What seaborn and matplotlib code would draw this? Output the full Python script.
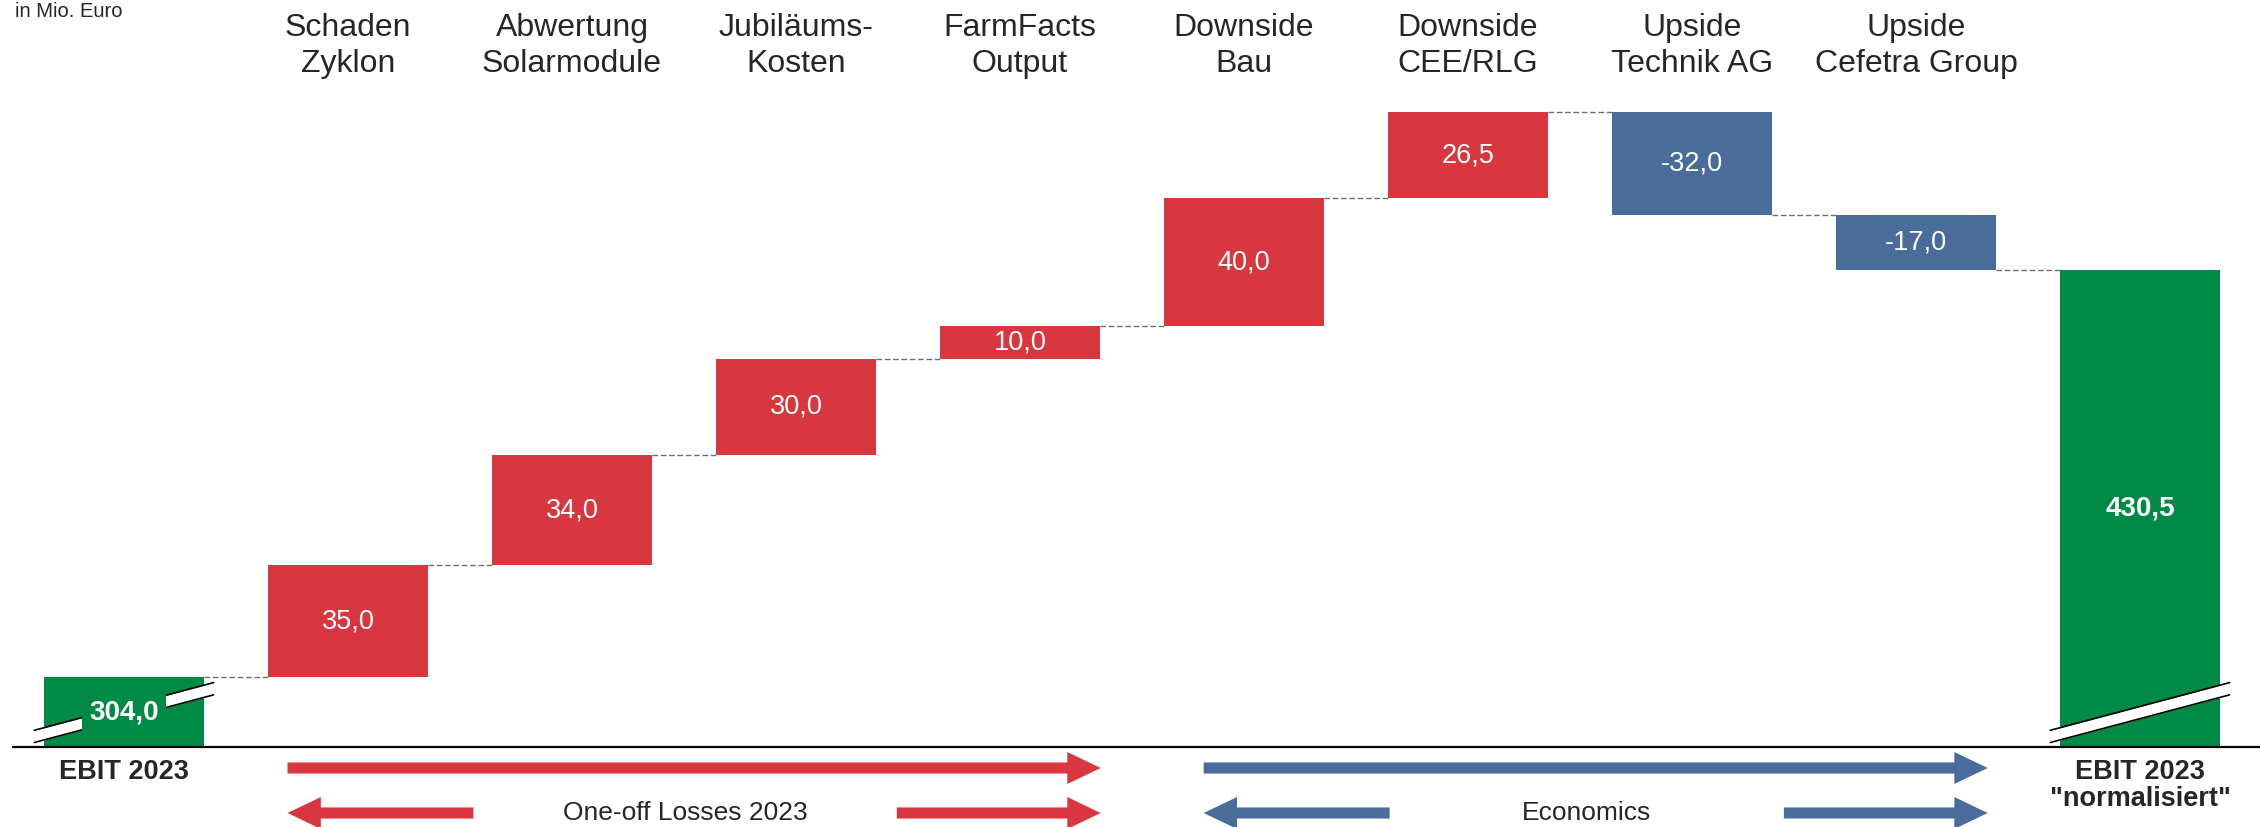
import matplotlib
matplotlib.use("Agg")
import matplotlib.pyplot as plt
import matplotlib.transforms as mtransforms
import numpy as np
import pandas as pd
import seaborn as sns

# --- data ---------------------------------------------------------------
start_label = "EBIT 2023"
end_label = 'EBIT 2023\n"normalisiert"'
step_labels = [
    "Schaden\nZyklon",
    "Abwertung\nSolarmodule",
    "Jubiläums-\nKosten",
    "FarmFacts\nOutput",
    "Downside\nBau",
    "Downside\nCEE/RLG",
    "Upside\nTechnik AG",
    "Upside\nCefetra Group",
]
start_value = 304.0
step_values = [35.0, 34.0, 30.0, 10.0, 40.0, 26.5, -32.0, -17.0]
end_value = 430.5
axis_floor = 282.4          # where the broken value axis is cut off
unit_label = "in Mio. Euro"

# bracket arrows under the steps: (text, span start, span end) in bar units
group_names = ["One-off Losses 2023", "Economics"]
group_spans = [(0.73, 4.36), (4.82, 8.32)]
group_colors = ["#D9373F", "#4A6C9B"]

GREEN, RED, BLUE = "#008A46", "#D9373F", "#4A6C9B"
BAR_W = 0.714


def fmt(v):
    return f"{v:.1f}".replace(".", ",")


def main():
    labels = [start_label] + step_labels + [end_label]
    cum = start_value + np.cumsum(step_values)
    levels = np.r_[start_value, cum]
    bottoms = np.r_[0.0, levels[:-1], 0.0]
    heights = [start_value] + step_values + [end_value]
    kinds = ["total"] + ["up" if v > 0 else "down" for v in step_values] + ["total"]
    df = pd.DataFrame({"label": [l.replace("\n", " ") for l in labels],
                       "height": heights, "bottom": bottoms, "kind": kinds})
    palette = {"total": GREEN, "up": RED, "down": BLUE}

    sns.set_style("white")
    plt.rcParams["font.family"] = ["Liberation Sans", "DejaVu Sans"]

    fig = plt.figure(figsize=(22.6, 8.27), dpi=100)
    ax = fig.add_axes([0, 80 / 827, 1, 747 / 827])

    sns.barplot(data=df, x="label", y="height", bottom=df["bottom"].to_numpy(),
                width=BAR_W, errorbar=None, color=GREEN, linewidth=0, ax=ax)
    for patch, k in zip(ax.patches, df["kind"]):
        patch.set_facecolor(palette[k])
        patch.set_zorder(2)

    n = len(df)
    ax.set_xlim(-124 / 224, (2260 - 124) / 224)
    ax.set_ylim(axis_floor, axis_floor + 747 / 3.22)
    ax.set_axis_off()

    # connectors
    for i in range(n - 1):
        ax.plot([i + BAR_W / 2, i + 1 - BAR_W / 2], [levels[i]] * 2,
                ls=(0, (4, 2)), color="#707070", lw=1.0, zorder=1)

    # axis break marks on the two totals
    for xc in (0, n - 1):
        xs = np.array([xc - 0.4, xc + 0.4])
        up = 295.0 + 18.5 * (xs - xc)
        lo = 291.2 + 18.5 * (xs - xc)
        ax.fill_between(xs, lo, up, color="white", lw=0, zorder=3)
        ax.plot(xs, up, color="black", lw=1.2, zorder=4)
        ax.plot(xs, lo, color="black", lw=1.2, zorder=4)

    # value labels
    for i, row in df.iterrows():
        if row["kind"] == "total":
            y = (axis_floor + row["height"]) / 2
            ax.text(i, y, fmt(row["height"]), ha="center", va="center",
                    color="white", fontsize=20, fontweight="bold", zorder=6,
                    bbox=dict(boxstyle="square,pad=0.25", fc=GREEN, ec="none"))
        else:
            y = row["bottom"] + row["height"] / 2
            ax.text(i, y, fmt(row["height"]), ha="center", va="center",
                    color="white", fontsize=19.5, zorder=6)

    # base line
    ax.axhline(axis_floor, xmin=13 / 2260, xmax=1, color="black", lw=1.6,
               zorder=5, clip_on=False)

    trans = mtransforms.blended_transform_factory(ax.transData, fig.transFigure)

    # category labels on top
    for i, lab in enumerate(step_labels, start=1):
        ax.text(i, 1 - 46 / 827, lab, transform=trans, ha="center", va="center",
                fontsize=23, linespacing=1.3)

    # total labels under the axis
    for i, lab in ((0, start_label), (n - 1, end_label)):
        ax.text(i, 1 - 759 / 827, lab, transform=trans, ha="center", va="top",
                fontsize=19.5, fontweight="bold", linespacing=1.05)

    fig.text(15 / 2260, 0.997, unit_label, ha="left", va="top", fontsize=14.5)

    # bracket arrows
    arrow_kw = dict(arrowstyle="simple,head_length=24,head_width=23,tail_width=8",
                    mutation_scale=1, shrinkA=0, shrinkB=0, lw=0)
    y1, y2 = 1 - 768 / 827, 1 - 813 / 827
    for name, (a, b), c in zip(group_names, group_spans, group_colors):
        props = dict(arrow_kw, fc=c, ec="none")
        ax.annotate("", xy=(b, y1), xytext=(a, y1), xycoords=trans,
                    textcoords=trans, arrowprops=props)
        ax.annotate("", xy=(a, y2), xytext=(a + 0.83, y2), xycoords=trans,
                    textcoords=trans, arrowprops=props)
        ax.annotate("", xy=(b, y2), xytext=(b - 0.91, y2), xycoords=trans,
                    textcoords=trans, arrowprops=props)
        ax.text((a + 0.83 + b - 0.91) / 2, y2, name, transform=trans,
                ha="center", va="center", fontsize=19)

    fig.savefig("out.png", dpi=100, facecolor="white")
    plt.close(fig)


if __name__ == "__main__":
    main()
